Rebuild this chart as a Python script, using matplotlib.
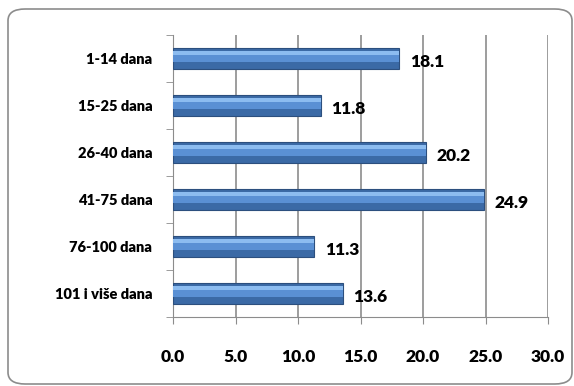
import numpy as np
import matplotlib.pyplot as plt
from matplotlib.patches import FancyBboxPatch

# podaci
kategorije = ['1-14 dana', '15-25 dana', '26-40 dana', '41-75 dana', '76-100 dana', '101 i više dana']
vrijednosti = [18.1, 11.8, 20.2, 24.9, 11.3, 13.6]
x_ticks = [0, 5, 10, 15, 20, 25, 30]

plt.rcParams['font.family'] = ['Lato', 'DejaVu Sans']
plt.rcParams['font.weight'] = 'heavy'

fig = plt.figure(figsize=(5.74, 3.86), dpi=100)

# okvir oko grafikona
okvir = FancyBboxPatch((8 / 574, 2 / 386), 564 / 574, 375 / 386,
                       boxstyle='round,pad=0,rounding_size=0.03',
                       transform=fig.transFigure, facecolor='white',
                       edgecolor='#8c8c8c', linewidth=1.2, zorder=-1)
fig.patches.append(okvir)

ax = fig.add_axes([173 / 574, 1 - 317 / 386, 375 / 574, 282 / 386])
ax.set_facecolor('none')

y = np.arange(len(kategorije))
# osnovna traka + svjetliji gornji dio (gradijent)
ax.barh(y, vrijednosti, height=0.43, color='#3b6aa6', edgecolor='#2c4f7e', linewidth=0.8, zorder=3)
ax.barh(y - 0.05, vrijednosti, height=0.24, color='#5a90d4', linewidth=0, zorder=4)
ax.barh(y - 0.12, vrijednosti, height=0.07, color='#8cbcf0', linewidth=0, zorder=5)

for yi, v in zip(y, vrijednosti):
    ax.text(v + 0.85, yi + 0.08, f'{v:.1f}', va='center', ha='left', fontsize=12.5, fontweight='heavy')

ax.set_ylim(len(kategorije) - 0.5, -0.5)
ax.set_xlim(0, 30)
ax.set_xticks(x_ticks)
ax.set_xticklabels([f'{t:.1f}' for t in x_ticks], fontsize=12.5, fontweight='heavy')
ax.set_yticks(y)
ax.set_yticklabels(kategorije, fontsize=10.5, fontweight='heavy')
ax.set_yticks(np.arange(len(kategorije) + 1) - 0.5, minor=True)
ax.tick_params(axis='y', which='major', length=0, pad=15)
ax.tick_params(axis='y', which='minor', length=5, color='#8c8c8c')
ax.tick_params(axis='x', length=5, color='#8c8c8c', pad=18)

ax.grid(axis='x', color='#8c8c8c', linewidth=1.2, zorder=0)
for s in ['top', 'right']:
    ax.spines[s].set_visible(False)
ax.spines['left'].set_color('#8c8c8c')
ax.spines['bottom'].set_color('#8c8c8c')

plt.savefig('out.png', dpi=100)
